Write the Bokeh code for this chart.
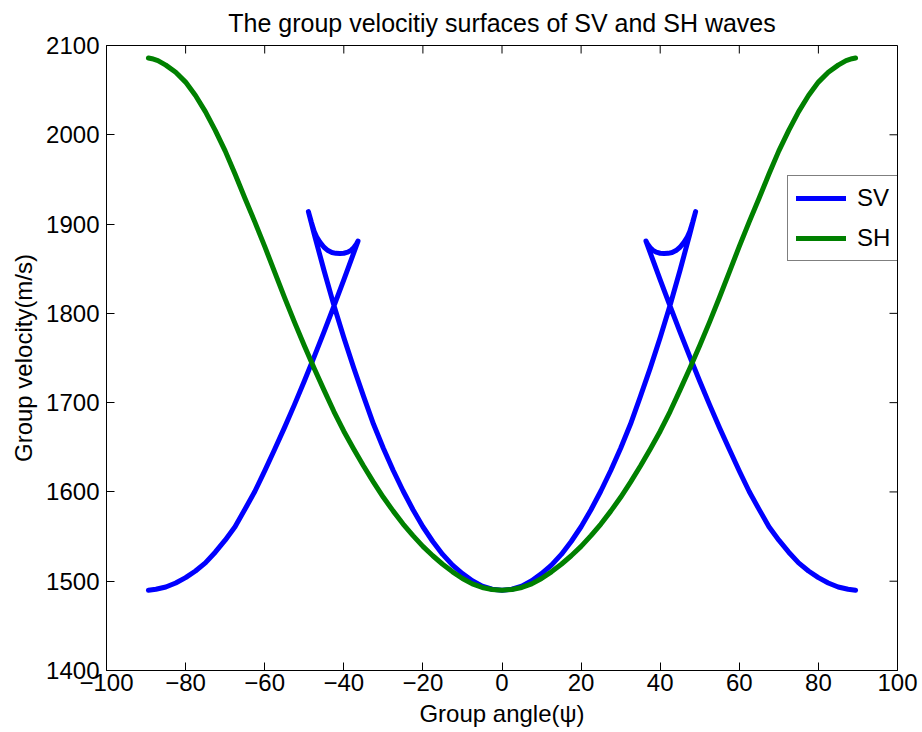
from bokeh.plotting import figure
from bokeh.models import Range1d, FixedTicker, Legend, LegendItem
from bokeh.embed import file_html
from bokeh.resources import INLINE

# ---- data (right half; the chart is symmetric) ----
sh_angle_half = [0, 2.5, 5, 7.5, 10, 12.5, 15, 17.5, 20, 22.5, 25, 27.5, 30,
                 32.5, 35, 37.5, 40, 42.5, 45, 47.5, 50, 52.5, 55, 57.5, 60,
                 62.5, 65, 67.5, 70, 72.5, 75, 77.5, 80, 82.5, 85, 87, 88.5,
                 89.4]
sh_vel_half = [1490, 1490.8, 1493, 1497, 1503, 1510.5, 1519, 1528.5, 1539,
               1551, 1564, 1578.5, 1594, 1611, 1629, 1648, 1668, 1690, 1714,
               1738.5, 1764, 1790.5, 1818, 1846.5, 1875, 1902.5, 1929, 1956,
               1982, 2005, 2026, 2044, 2059, 2070, 2078, 2083, 2085.2, 2086]

# SV: inner branch up to the outer cusp, the small arc back to the inner
# cusp, then the outer branch down to the horizontal direction
sv_angle_half = [0, 2.5, 5, 7.5, 10, 12.5, 15, 17.5, 20, 22.5, 25, 27.5, 30,
                 32.5, 35, 37.5, 40, 42.5, 45, 47.5, 48.95,
                 48.2, 47.5, 46.8, 46.0, 45.0, 44.0, 43.0, 42.0, 41.0, 40.0,
                 39.0, 38.2, 37.5, 36.9, 36.4,
                 38.0, 40.0, 42.5, 45.0, 47.5, 50.0, 52.5, 55.0, 57.5, 60.0,
                 62.5, 65.0, 67.5, 70.0, 72.5, 75.0, 77.5, 80.0, 82.5, 85.0,
                 87.5, 89.4]
sv_vel_half = [1490, 1491, 1494.5, 1500.5, 1508.5, 1518, 1530, 1544.5, 1561,
               1580, 1601, 1624, 1649, 1676, 1707, 1739, 1773, 1809, 1848,
               1889, 1914,
               1902, 1892, 1885, 1879.5, 1874, 1870.3, 1868.1, 1867.2, 1867,
               1867.3, 1868.5, 1870.5, 1873.5, 1877, 1881,
               1861.5, 1837.5, 1808, 1779.3, 1751.3, 1724, 1697.5, 1672,
               1647.5, 1623.5, 1600.5, 1580.5, 1561, 1546, 1532.5, 1520.5,
               1511.5, 1504, 1498, 1493.5, 1491, 1490]

x_ticks = [-100, -80, -60, -40, -20, 0, 20, 40, 60, 80, 100]
x_tick_labels = ["\u2212100", "\u221280", "\u221260", "\u221240", "\u221220",
                 "0", "20", "40", "60", "80", "100"]
y_ticks = [1400, 1500, 1600, 1700, 1800, 1900, 2000, 2100]
y_tick_labels = ["1400", "1500", "1600", "1700", "1800", "1900", "2000", "2100"]

title_text = "The group velocitiy surfaces of SV and SH waves"

X_MIN, X_MAX = -100, 100
Y_MIN, Y_MAX = 1400, 2100


def mirror(angles, vels):
    a = [-v for v in reversed(angles[1:])] + list(angles)
    v = list(reversed(vels[1:])) + list(vels)
    return a, v


sv_x, sv_y = mirror(sv_angle_half, sv_vel_half)
sh_x, sh_y = mirror(sh_angle_half, sh_vel_half)

FONT = "Liberation Sans"
FS = "24px"
FRAME_W, FRAME_H = 791, 625
TICK_LEN = 8

p = figure(width=922, height=732, output_backend="svg", toolbar_location=None,
           x_range=Range1d(X_MIN, X_MAX), y_range=Range1d(Y_MIN, Y_MAX),
           min_border_left=106, min_border_right=25, min_border_top=45,
           min_border_bottom=62, title=title_text)

p.title.align = "center"
p.title.vertical_align = "top"
p.title.text_font = FONT
p.title.text_font_size = "25px"
p.title.text_font_style = "normal"
p.title.text_color = "black"
p.title.standoff = 13

p.xgrid.visible = False
p.ygrid.visible = False
p.outline_line_color = "black"
p.outline_line_width = 1
p.background_fill_color = "white"
p.border_fill_color = "white"

r_sv = p.line(sv_x, sv_y, line_color="#0000ff", line_width=5,
              line_cap="round", line_join="round")
r_sh = p.line(sh_x, sh_y, line_color="#008000", line_width=5,
              line_cap="round", line_join="round")

# inward tick marks on the top and right edges of the box (MATLAB style)
dy = TICK_LEN * (Y_MAX - Y_MIN) / FRAME_H
dx = TICK_LEN * (X_MAX - X_MIN) / FRAME_W
p.segment(x0=x_ticks, y0=[Y_MAX] * len(x_ticks), x1=x_ticks,
          y1=[Y_MAX - dy] * len(x_ticks), line_color="black", line_width=1)
p.segment(x0=[X_MAX] * len(y_ticks), y0=y_ticks, x1=[X_MAX - dx] * len(y_ticks),
          y1=y_ticks, line_color="black", line_width=1)


def style_axis(ax, ticks, labels):
    ax.ticker = FixedTicker(ticks=ticks)
    ax.major_label_overrides = {t: l for t, l in zip(ticks, labels)}
    ax.major_tick_in = TICK_LEN
    ax.major_tick_out = 0
    ax.minor_tick_in = 0
    ax.minor_tick_out = 0
    ax.major_tick_line_color = "black"
    ax.axis_line_color = "black"
    ax.major_label_text_font = FONT
    ax.major_label_text_color = "black"
    ax.major_label_text_font_size = FS
    ax.axis_label_text_font = FONT
    ax.axis_label_text_font_size = FS
    ax.axis_label_text_font_style = "normal"
    ax.axis_label_text_color = "black"


style_axis(p.xaxis[0], x_ticks, x_tick_labels)
style_axis(p.yaxis[0], y_ticks, y_tick_labels)
p.xaxis[0].axis_label = "Group angle(\u03c8)"
p.yaxis[0].axis_label = "Group velocity(m/s)"
p.xaxis[0].major_label_standoff = 3
p.xaxis[0].axis_label_standoff = 6
p.yaxis[0].major_label_standoff = 7
p.yaxis[0].axis_label_standoff = 6

legend = Legend(items=[LegendItem(label="SV", renderers=[r_sv]),
                       LegendItem(label="SH", renderers=[r_sh])],
                location=(681, 409))
legend.label_text_font = FONT
legend.label_text_font_size = FS
legend.label_text_color = "black"
legend.border_line_color = "black"
legend.border_line_width = 1
legend.background_fill_color = "white"
legend.background_fill_alpha = 1
legend.padding = 8
legend.spacing = 12
legend.glyph_width = 50
legend.glyph_height = 26
legend.label_height = 26
legend.label_standoff = 11
legend.margin = 0
p.add_layout(legend)

open("out.html", "w").write(file_html(p, INLINE))
